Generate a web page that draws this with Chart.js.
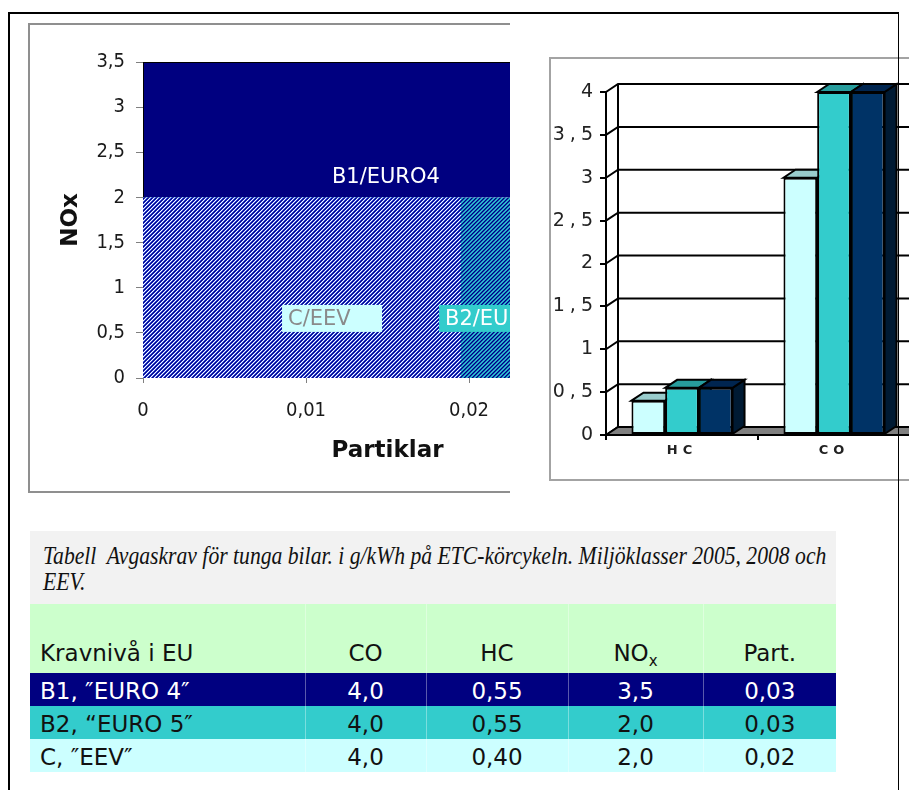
<!DOCTYPE html>
<html lang="sv">
<head>
<meta charset="utf-8">
<title>Avgaskrav för tunga bilar</title>
<script src="https://cdn.jsdelivr.net/npm/chart.js@4.4.1/dist/chart.umd.min.js"></script>
<style>
  html, body { margin: 0; padding: 0; background: #fff; }
  body { position: relative; width: 909px; height: 790px; overflow: hidden; }
  #page-frame { position: absolute; left: 8px; top: 12px; width: 891px; height: 800px; box-sizing: border-box;
    border-left: 2px solid #000; border-top: 2px solid #000; border-right: 1px solid #000; z-index: 10; pointer-events: none; }
  .chart-box { position: absolute; box-sizing: border-box; overflow: hidden; background: #fff; }
  #nox-box { left: 28px; top: 23px; width: 482px; height: 470px; border: 2px solid #8f8f8f; border-right: none; }
  #bar-box { left: 549px; top: 57px; width: 420px; height: 424px; border: 2px solid #a3a3a3; }
  .chart-box canvas { position: absolute; left: 0; top: 0; }
  #caption { position: absolute; left: 30px; top: 531px; width: 806px; height: 73px; background: #f2f2f2;
    box-sizing: border-box; padding: 12px 0 0 13px; font-family: "Liberation Serif", "Times New Roman", serif;
    font-style: italic; font-size: 25px; line-height: 26px; color: #111; }
  #caption span { display: block; transform-origin: 0 0; transform: scaleX(0.866); white-space: pre; }
  #limits { position: absolute; left: 30px; top: 604px; width: 806px; border-collapse: collapse; table-layout: fixed;
    font-family: "DejaVu Sans", sans-serif; font-size: 23px; color: #111; }
  #limits td, #limits th { padding: 0; height: 33px; text-align: center; font-weight: normal; white-space: nowrap; line-height: 27px; }
  #limits td { padding-top: 3px; box-sizing: border-box; }
  #limits td:first-child, #limits th:first-child { text-align: left; padding-left: 10px; }
  #limits td + td, #limits th + th { border-left: 1px solid rgba(255,255,255,0.35); }
  #limits thead th { height: 69px; vertical-align: bottom; padding-bottom: 6px; box-sizing: border-box; background: #ccffcc; }
  #limits sub { font-size: 15px; vertical-align: -5px; line-height: 0; }
</style>
</head>
<body>
<div id="page-frame"></div>

<div class="chart-box" id="nox-box"><canvas id="noxChart" width="640" height="466"></canvas></div>
<div class="chart-box" id="bar-box"><canvas id="barChart" width="560" height="420"></canvas></div>

<div id="caption"><span>Tabell  Avgaskrav för tunga bilar. i g/kWh på ETC-körcykeln. Miljöklasser 2005, 2008 och</span><span>EEV.</span></div>
<table id="limits">
  <colgroup><col style="width:275px"><col style="width:121px"><col style="width:142px"><col style="width:135px"><col style="width:133px"></colgroup>
  <thead><tr id="head-row"></tr></thead>
  <tbody id="limit-rows"></tbody>
</table>

<script>
// Emission classes, in table order: B1, B2, C
const classNames = ['B1, ″EURO 4″', 'B2, “EURO 5″', 'C, ″EEV″'];
const classTags = ['B1/EURO4', 'B2/EURO5', 'C/EEV'];
const rowColors = ['#000080', '#33cccc', '#ccffff'];
const rowText = ['#ffffff', '#111111', '#111111'];

// Table limits in g/kWh per class (B1, B2, C)
const limitCO = [4.0, 4.0, 4.0];
const limitHC = [0.55, 0.55, 0.40];
const limitNOx = [3.5, 2.0, 2.0];
const limitPart = [0.03, 0.03, 0.02];

// Table columns
const tableHead = ['Kravnivå i EU', 'CO', 'HC', 'NO<sub>x</sub>', 'Part.'];
const tableDecimals = [1, 2, 1, 2];

// NOx / particle chart: right edge of each class area on the particle axis (B1, B2, C)
const areaPartEdge = [0.03, 0.03, 0.0195];
const partTicks = [0, 0.01, 0.02, 0.03];
const noxTicks = [0, 0.5, 1, 1.5, 2, 2.5, 3, 3.5];

// Bar chart: one series per class, drawn C, B2, B1 from left to right
const barCategories = ['HC', 'CO', 'NOx'];
const barC = [0.40, 3.0, 2.0];
const barB2 = [0.55, 4.0, 2.0];
const barB1 = [0.55, 4.0, 3.5];
const barTicks = [0, 0.5, 1, 1.5, 2, 2.5, 3, 3.5, 4];
const barFront = ['#ccffff', '#33cccc', '#003366'];
const barTop = ['#99cccc', '#279d9d', '#002550'];
const barSide = ['#7fb0b0', '#1f7f7f', '#001a33'];

const comma = v => String(v).replace('.', ',');

/* ---------- table ---------- */
document.getElementById('head-row').innerHTML = tableHead.map(h => '<th>' + h + '</th>').join('');
const cols = [limitCO, limitHC, limitNOx, limitPart];
document.getElementById('limit-rows').innerHTML = classNames.map((name, r) =>
  '<tr style="background:' + rowColors[r] + ';color:' + rowText[r] + '"><td>' + name + '</td>' +
  cols.map((c, k) => '<td>' + comma(c[r].toFixed(tableDecimals[k])) + '</td>').join('') + '</tr>'
).join('');

/* ---------- fill patterns ---------- */
function stipple(colors) {
  const c = document.createElement('canvas');
  c.width = 4; c.height = 4;
  const g = c.getContext('2d');
  for (let y = 0; y < 4; y++) for (let x = 0; x < 4; x++) {
    g.fillStyle = colors[(x + y) % 4];
    g.fillRect(x, y, 1, 1);
  }
  return g.createPattern(c, 'repeat');
}
const patternEEV = stipple(['#ffffff', '#4466e8', '#00008a', '#2233bb']);
const patternB2 = stipple(['#33cccc', '#1f8fc8', '#000080', '#1040a8']);

const sansC = "'DejaVu Sans Condensed', 'DejaVu Sans', sans-serif";
const sans = "'DejaVu Sans', sans-serif";

/* ---------- class labels inside the NOx chart ---------- */
const regionLabels = {
  id: 'regionLabels',
  afterDatasetsDraw(chart, args, opts) {
    const { ctx, scales: { x, y } } = chart;
    ctx.save();
    ctx.font = opts.font;
    ctx.textBaseline = 'middle';
    opts.items.forEach(it => {
      const px = x.getPixelForValue(it.x), py = y.getPixelForValue(it.y);
      if (it.bg) {
        ctx.fillStyle = it.bg;
        ctx.fillRect(px, py - it.h / 2, it.w, it.h);
        ctx.textAlign = 'left';
        ctx.fillStyle = it.color;
        ctx.fillText(it.text, px + 6, py + 1);
      } else {
        ctx.textAlign = 'center';
        ctx.fillStyle = it.color;
        ctx.fillText(it.text, px, py);
      }
    });
    ctx.restore();
  }
};

new Chart(document.getElementById('noxChart'), {
  type: 'line',
  data: {
    datasets: [
      { label: classTags[2], fill: 'origin', backgroundColor: patternEEV, borderWidth: 0,
        data: [{x: 0, y: 0}, {x: 0, y: limitNOx[2]}, {x: areaPartEdge[2], y: limitNOx[2]}, {x: areaPartEdge[2], y: 0}] },
      { label: classTags[1], fill: 'origin', backgroundColor: patternB2, borderWidth: 0,
        data: [{x: 0, y: 0}, {x: 0, y: limitNOx[1]}, {x: areaPartEdge[1], y: limitNOx[1]}, {x: areaPartEdge[1], y: 0}] },
      { label: classTags[0], fill: { value: limitNOx[1] }, backgroundColor: '#000080', borderColor: '#000', borderWidth: 2,
        data: [{x: 0, y: limitNOx[1]}, {x: 0, y: limitNOx[0]}, {x: areaPartEdge[0], y: limitNOx[0]}, {x: areaPartEdge[0], y: limitNOx[1]}] }
    ]
  },
  options: {
    responsive: false, animation: false, devicePixelRatio: 1,
    elements: { point: { radius: 0 }, line: { tension: 0 } },
    layout: { padding: { top: 37, right: 38, left: 0, bottom: 0 } },
    plugins: {
      legend: { display: false }, tooltip: { enabled: false },
      regionLabels: {
        font: '21px ' + sans,
        items: [
          { text: classTags[0], x: 0.0149, y: 2.22, color: '#ffffff' },
          { text: classTags[2], x: 0.00853, y: 0.66, color: '#8a8a8a', bg: '#ccffff', w: 100, h: 27 },
          { text: classTags[1], x: 0.01816, y: 0.66, color: '#ffffff', bg: '#33cccc', w: 118, h: 27 }
        ]
      }
    },
    scales: {
      x: {
        type: 'linear', min: 0, max: 0.03,
        afterBuildTicks: s => { s.ticks = partTicks.map(v => ({ value: v })); },
        afterFit: s => { s.height = 113; },
        border: { display: false },
        grid: { drawOnChartArea: false, drawTicks: true, tickLength: 5, color: '#808080', lineWidth: 1 },
        ticks: { padding: 16, color: '#1a1a1a', font: { family: sansC, size: 20 }, callback: v => comma(v) },
        title: { display: true, text: 'Partiklar', color: '#111', padding: { bottom: 26 },
          font: { family: sans, size: 23, weight: 'bold' } }
      },
      y: {
        min: 0, max: 3.5,
        afterBuildTicks: s => { s.ticks = noxTicks.map(v => ({ value: v })); },
        afterFit: s => { s.width = 113; },
        border: { display: false },
        grid: { drawOnChartArea: false, drawTicks: true, tickLength: 7, color: '#808080', lineWidth: 1 },
        ticks: { padding: 11, color: '#1a1a1a', font: { family: sansC, size: 20 }, callback: v => comma(v) },
        title: { display: true, text: 'NOx', color: '#111', padding: { top: 27 },
          font: { family: sans, size: 23, weight: 'bold' } }
      }
    }
  },
  plugins: [regionLabels]
});

/* ---------- 3-D look for the bar chart ---------- */
const depth3d = {
  id: 'depth3d',
  beforeDraw(chart, args, opts) { chart.ctx.letterSpacing = opts.spacing; },
  beforeDatasetsDraw(chart, args, opts) {
    const { ctx, chartArea: a, scales: { y } } = chart;
    const dx = opts.dx, dy = opts.dy;
    ctx.save();
    ctx.lineWidth = 2; ctx.strokeStyle = '#000'; ctx.lineJoin = 'miter';
    // back wall grid
    y.ticks.forEach(t => {
      const py = y.getPixelForValue(t.value);
      ctx.beginPath(); ctx.moveTo(a.left, py); ctx.lineTo(a.left + dx, py + dy); ctx.lineTo(a.right + dx, py + dy); ctx.stroke();
    });
    ctx.beginPath(); ctx.moveTo(a.left + dx, a.bottom + dy); ctx.lineTo(a.left + dx, a.top + dy); ctx.stroke();
    // floor
    ctx.beginPath();
    ctx.moveTo(a.left, a.bottom); ctx.lineTo(a.left + dx, a.bottom + dy);
    ctx.lineTo(a.right + dx, a.bottom + dy); ctx.lineTo(a.right, a.bottom); ctx.closePath();
    ctx.fillStyle = opts.floor; ctx.fill(); ctx.stroke();
    // side and top faces of each bar
    chart.data.datasets.forEach((ds, i) => {
      chart.getDatasetMeta(i).data.forEach(bar => {
        const p = bar.getProps(['x', 'y', 'base', 'width'], true);
        const l = p.x - p.width / 2, r = p.x + p.width / 2;
        ctx.beginPath();
        ctx.moveTo(r, p.base); ctx.lineTo(r + dx, p.base + dy); ctx.lineTo(r + dx, p.y + dy); ctx.lineTo(r, p.y); ctx.closePath();
        ctx.fillStyle = opts.side[i]; ctx.fill(); ctx.stroke();
        ctx.beginPath();
        ctx.moveTo(l, p.y); ctx.lineTo(l + dx, p.y + dy); ctx.lineTo(r + dx, p.y + dy); ctx.lineTo(r, p.y); ctx.closePath();
        ctx.fillStyle = opts.top[i]; ctx.fill(); ctx.stroke();
      });
    });
    ctx.restore();
  },
  afterDraw(chart) { chart.ctx.letterSpacing = '0px'; }
};

const barSeries = [barC, barB2, barB1];
const barTags = [classTags[2], classTags[1], classTags[0]];
new Chart(document.getElementById('barChart'), {
  type: 'bar',
  data: {
    labels: barCategories,
    datasets: barSeries.map((vals, k) => ({
      label: barTags[k],
      data: vals,
      backgroundColor: barFront[k], borderColor: '#000', borderWidth: 2, borderSkipped: false,
      categoryPercentage: 0.665, barPercentage: 1.0
    }))
  },
  options: {
    responsive: false, animation: false, devicePixelRatio: 1,
    layout: { padding: { top: 33, right: 49, left: 0, bottom: 0 } },
    plugins: {
      legend: { display: false }, tooltip: { enabled: false },
      depth3d: { dx: 12, dy: -8, floor: '#808080', top: barTop, side: barSide, spacing: '5px' }
    },
    scales: {
      x: {
        afterFit: s => { s.height = 44; },
        border: { display: true, color: '#000', width: 2 },
        grid: { drawOnChartArea: false, drawTicks: true, tickLength: 5, color: '#000', lineWidth: 2, offset: true },
        ticks: { padding: 3, color: '#222', font: { family: sans, size: 13, weight: 'bold' } }
      },
      y: {
        min: 0, max: 4,
        afterBuildTicks: s => { s.ticks = barTicks.map(v => ({ value: v })); },
        afterFit: s => { s.width = 55; },
        border: { display: true, color: '#000', width: 2 },
        grid: { drawOnChartArea: false, drawTicks: true, tickLength: 6, color: '#000', lineWidth: 2 },
        ticks: { padding: 2, color: '#222', font: { family: sans, size: 19 }, callback: v => comma(v) }
      }
    }
  },
  plugins: [depth3d]
});
</script>
</body>
</html>
